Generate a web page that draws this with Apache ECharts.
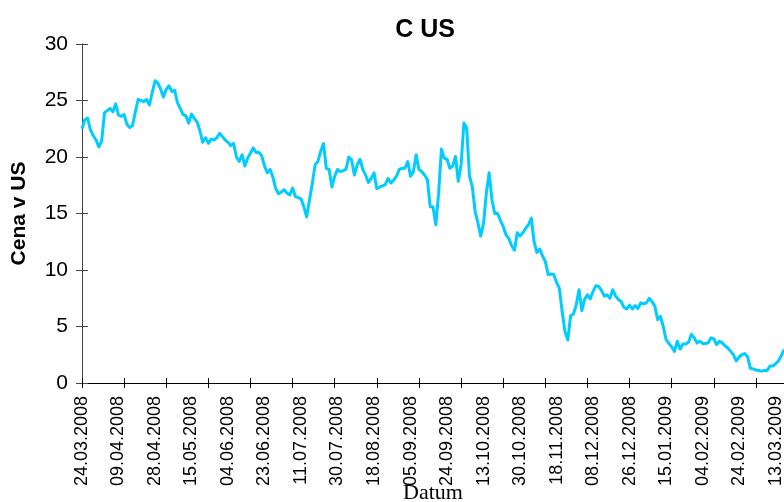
<!DOCTYPE html>
<html>
<head>
<meta charset="utf-8">
<script src="https://cdn.jsdelivr.net/npm/echarts@6/dist/echarts.min.js"></script>
<style>
  html, body { margin: 0; padding: 0; background: #fff; }
  #chart { width: 784px; height: 502px; }
</style>
</head>
<body>
<div id="chart"></div>
<script>
  // popisky osy x (kazdy 13. obchodni den)
  const tickLabels = ['24.03.2008', '09.04.2008', '28.04.2008', '15.05.2008', '04.06.2008',
    '23.06.2008', '11.07.2008', '30.07.2008', '18.08.2008', '05.09.2008', '24.09.2008',
    '13.10.2008', '30.10.2008', '18.11.2008', '08.12.2008', '26.12.2008', '15.01.2009',
    '04.02.2009', '24.02.2009', '13.03.2009'];

  // denni zaviraci ceny
  const prices = [
    22.5, 23.3, 23.45, 22.4, 21.9, 21.5, 20.9, 21.4, 23.9, 24.1,
    24.3, 24.0, 24.7, 23.7, 23.6, 23.75, 22.9, 22.6, 22.8, 24.0,
    25.1, 25.0, 24.9, 25.1, 24.6, 25.7, 26.75, 26.55, 26.0, 25.3,
    26.0, 26.3, 25.8, 25.9, 24.8, 24.3, 23.75, 23.65, 23.0, 23.8,
    23.4, 23.1, 22.3, 21.3, 21.7, 21.2, 21.6, 21.5, 21.7, 22.1,
    21.8, 21.5, 21.3, 21.0, 21.2, 20.0, 19.6, 20.2, 19.2, 19.9,
    20.35, 20.8, 20.4, 20.4, 20.1, 19.2, 18.6, 18.9, 18.2, 17.2,
    16.75, 16.9, 17.1, 16.8, 16.65, 17.25, 16.5, 16.4, 16.3, 15.6,
    14.7, 16.2, 17.6, 19.3, 19.6, 20.5, 21.2, 19.0, 18.9, 17.35,
    18.3, 18.9, 18.7, 18.8, 18.9, 20.0, 19.75, 18.4, 19.3, 19.8,
    18.9, 18.4, 17.75, 18.1, 18.6, 17.2, 17.35, 17.45, 17.55, 18.1,
    17.7, 17.95, 18.3, 18.9, 19.0, 19.0, 19.6, 18.3, 18.7, 20.2,
    18.9, 18.7, 18.4, 18.0, 15.6, 15.6, 14.0, 16.8, 20.7, 19.9,
    19.8, 19.0, 19.2, 20.05, 17.85, 19.3, 23.0, 22.55, 18.3, 17.35,
    15.2, 14.15, 13.0, 14.15, 16.8, 18.6, 16.2, 15.0, 15.0, 14.4,
    13.85, 13.1, 12.8, 12.15, 11.75, 13.3, 13.0, 13.3, 13.7, 14.0,
    14.6, 12.5, 11.55, 11.85, 11.25, 10.75, 9.6, 9.65, 9.6, 8.9,
    8.4, 6.3, 4.55, 3.8, 5.95, 6.1, 6.9, 8.25, 6.4, 7.4,
    7.8, 7.45, 8.1, 8.6, 8.55, 8.2, 7.7, 7.8, 7.5, 8.25,
    7.7, 7.4, 7.2, 6.7, 6.55, 6.9, 6.55, 6.85, 6.6, 7.1,
    7.0, 7.1, 7.5, 7.2, 6.8, 5.6, 5.9, 5.0, 3.85, 3.5,
    3.2, 2.8, 3.7, 3.0, 3.45, 3.45, 3.6, 4.3, 4.0, 3.55,
    3.7, 3.5, 3.5, 3.55, 4.0, 3.9, 3.4, 3.7, 3.55, 3.3,
    3.1, 2.8, 2.5, 1.95, 2.3, 2.5, 2.6, 2.35, 1.3, 1.25,
    1.15, 1.1, 1.05, 1.1, 1.1, 1.5, 1.5, 1.7, 1.95, 2.4,
    2.95
  ];

  const categories = prices.map((v, i) => i);

  const labelStep = 13;
  const tickStep = 15;

  const chart = echarts.init(document.getElementById('chart'));

  const option = {
    animation: false,
    backgroundColor: '#fff',
    title: {
      text: 'C US',
      left: 420,
      top: 13,
      textAlign: 'center',
      textStyle: {
        fontFamily: 'Liberation Sans',
        fontWeight: 'bold',
        fontSize: 25,
        color: '#000'
      }
    },
    grid: { left: 82, right: 0, top: 44, bottom: 119, containLabel: false, outerBoundsMode: 'none' },
    xAxis: [
      {
        type: 'category',
        data: categories,
        boundaryGap: false,
        name: 'Datum',
        nameLocation: 'middle',
        nameGap: 99,
        nameMoveOverlap: false,
        nameTextStyle: { fontFamily: 'Liberation Serif', fontSize: 22, color: '#000' },
        axisLine: { lineStyle: { color: '#000', width: 1 } },
        axisTick: { interval: tickStep - 1, length: 5, lineStyle: { color: '#000' } },
        axisLabel: {
          interval: labelStep - 1,
          rotate: 90,
          margin: 13,
          fontFamily: 'Liberation Sans',
          fontSize: 18,
          color: '#000',
          formatter: (v, idx) => tickLabels[Math.round(idx / labelStep)] || ''
        },
        splitLine: { show: false }
      },
      {
        type: 'category',
        data: categories,
        boundaryGap: false,
        position: 'bottom',
        axisLine: { show: false },
        axisTick: { interval: tickStep - 1, inside: true, length: 5, lineStyle: { color: '#000' } },
        axisLabel: { show: false },
        splitLine: { show: false }
      }
    ],
    yAxis: [
      {
        type: 'value',
        min: 0,
        max: 30,
        interval: 5,
        name: 'Cena v US',
        nameLocation: 'middle',
        nameGap: 52,
        nameMoveOverlap: false,
        nameTextStyle: { fontFamily: 'Liberation Sans', fontWeight: 'bold', fontSize: 21, color: '#000' },
        axisLine: { show: true, lineStyle: { color: '#444', width: 1 } },
        axisTick: { show: true, length: 6, lineStyle: { color: '#444' } },
        axisLabel: { margin: 14, fontFamily: 'Liberation Sans', fontSize: 21, color: '#000' },
        splitLine: { show: false }
      },
      {
        type: 'value',
        min: 0,
        max: 30,
        interval: 5,
        position: 'left',
        axisLine: { show: false },
        axisTick: { show: true, inside: true, length: 6, lineStyle: { color: '#444' } },
        axisLabel: { show: false },
        splitLine: { show: false }
      }
    ],
    series: [
      {
        name: 'C US',
        type: 'line',
        data: prices,
        showSymbol: false,
        lineStyle: { color: '#00CCFF', width: 3, join: 'round' },
        itemStyle: { color: '#00CCFF' }
      }
    ]
  };

  chart.setOption(option);
</script>
</body>
</html>
